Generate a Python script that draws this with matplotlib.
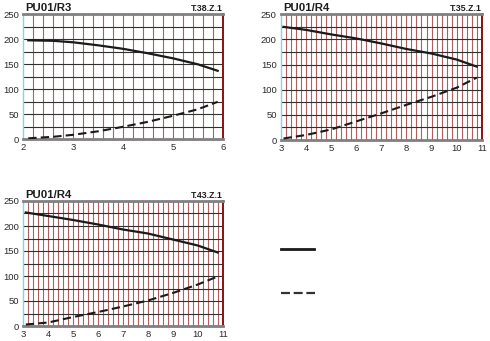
import matplotlib
matplotlib.use("Agg")
import matplotlib.pyplot as plt
from matplotlib.lines import Line2D
from matplotlib.transforms import offset_copy
import numpy as np

plt.rcParams['font.family'] = ['Liberation Sans', 'DejaVu Sans']

W, H = 490, 341

# Pump curves: head (solid) and power (dashed) against flow
r3_x = [2.1, 2.6, 3.0, 3.5, 4.0, 4.5, 5.0, 5.5, 5.9]
r3_head = [198, 197, 194, 188, 181, 172, 162, 150, 137]
r3_power = [2, 5, 9, 16, 25, 35, 47, 60, 75]

r4a_x = [3.1, 4.0, 5.0, 6.0, 7.0, 8.0, 9.0, 10.0, 10.8]
r4a_head = [225, 219, 210, 202, 192, 181, 172, 160, 146]
r4a_power = [3, 10, 21, 37, 53, 70, 86, 104, 124]

r4b_x = [3.1, 4.0, 5.0, 6.0, 7.0, 8.0, 9.0, 10.0, 10.8]
r4b_head = [227, 220, 212, 203, 193, 185, 173, 161, 147]
r4b_power = [3, 7, 18, 28, 39, 51, 66, 83, 99]

y_ticks = [0, 50, 100, 150, 200, 250]

panels = [
    dict(title="PU01/R3", code="T.38.Z.1", x=r3_x, head=r3_head, power=r3_power,
         xlim=(2, 6), xticks=[2, 3, 4, 5, 6], box=(23.3, 222.7, 14.3, 139.3)),
    dict(title="PU01/R4", code="T.35.Z.1", x=r4a_x, head=r4a_head, power=r4a_power,
         xlim=(3, 11), xticks=list(range(3, 12)), box=(281.0, 481.7, 14.3, 140.0)),
    dict(title="PU01/R4", code="T.43.Z.1", x=r4b_x, head=r4b_head, power=r4b_power,
         xlim=(3, 11), xticks=list(range(3, 12)), box=(23.3, 222.7, 201.0, 326.0)),
]

fig = plt.figure(figsize=(W / 100, H / 100), dpi=100)
fig.patch.set_facecolor("white")

for p in panels:
    l, r, t, b = p["box"]
    ax = fig.add_axes([l / W, 1 - b / H, (r - l) / W, (b - t) / H])
    x0, x1 = p["xlim"]
    ax.set_xlim(x0, x1)
    ax.set_ylim(0, 250)
    # fine grid: red verticals every 0.2, dark horizontals every 25
    for xv in np.arange(x0 + 0.2, x1 - 0.01, 0.2):
        ax.axvline(xv, color="#b05e5e", lw=0.8, zorder=1)
    for yv in range(25, 250, 25):
        ax.axhline(yv, color="#303030", lw=0.8, zorder=1)
    ax.plot(p["x"], p["head"], color="#1a1a1a", lw=1.6, zorder=3)
    ax.plot(p["x"], p["power"], color="#1a1a1a", lw=1.5, ls=(0, (4, 2)), zorder=3)

    ax.set_xticks(p["xticks"])
    ax.set_yticks(y_ticks)
    ax.tick_params(length=0, labelsize=6.8, pad=3)
    for lab in ax.get_xticklabels() + ax.get_yticklabels():
        lab.set_color("#2a2a2a")

    ax.spines["top"].set_color("#808080")
    ax.spines["top"].set_linewidth(2.0)
    ax.spines["bottom"].set_color("#808080")
    ax.spines["bottom"].set_linewidth(2.0)
    ax.spines["left"].set_color("#7fd8e0")
    ax.spines["left"].set_linewidth(1.0)
    ax.spines["right"].set_color("#8b1010")
    ax.spines["right"].set_linewidth(1.4)

    above = offset_copy(ax.transAxes, fig=fig, x=0, y=3.2, units="dots")
    ax.text(0.01, 1.0, p["title"], transform=above, ha="left", va="baseline",
            fontsize=8.2, fontweight="bold", color="#1e1e1e")
    ax.text(1.0, 1.0, p["code"], transform=above, ha="right", va="baseline",
            fontsize=6.3, fontweight="bold", color="#1e1e1e")

# key for the two curve styles
fig.add_artist(Line2D([281 / W, 314 / W], [1 - 249 / H, 1 - 249 / H],
                      color="#1a1a1a", lw=2.0))
fig.add_artist(Line2D([281 / W, 315 / W], [1 - 292.7 / H, 1 - 292.7 / H],
                      color="#333333", lw=1.6, ls=(0, (4.05, 1.66))))

fig.savefig("out.png", dpi=100, facecolor="white")
